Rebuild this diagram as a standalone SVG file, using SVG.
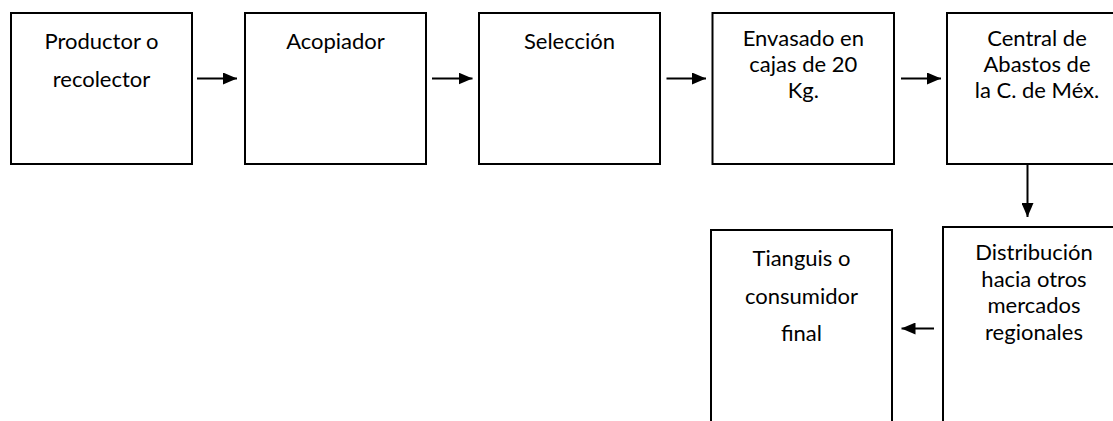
<svg xmlns="http://www.w3.org/2000/svg" width="1113" height="421" viewBox="0 0 1113 421">
<style>
.box{fill:#fff;stroke:#000;stroke-width:2}
.t{font-family:Lato,"Open Sans",sans-serif;font-size:22px;fill:#000;text-anchor:middle}
.c{stroke:#000;stroke-width:2;fill:none;marker-end:url(#ah)}
</style>
<defs>
<marker id="ah" viewBox="0 0 14 12" refX="14" refY="6" markerWidth="14" markerHeight="12" markerUnits="userSpaceOnUse" orient="auto">
<path d="M0,0 L14,6 L0,12 Z" fill="#000"/>
</marker>
</defs>
<rect width="1113" height="421" fill="#fff"/>
<g id="n1"><rect class="box" x="11" y="13" width="181" height="151"/>
<text class="t"><tspan x="101.5" y="49.3">Productor o</tspan><tspan x="101.5" y="87.3">recolector</tspan></text></g>
<g id="n2"><rect class="box" x="245" y="13" width="181" height="151"/>
<text class="t"><tspan x="335.5" y="49.3">Acopiador</tspan></text></g>
<g id="n3"><rect class="box" x="479" y="13" width="181" height="151"/>
<text class="t"><tspan x="569.5" y="49.3">Selección</tspan></text></g>
<g id="n4"><rect class="box" x="712.5" y="13" width="181.5" height="151"/>
<text class="t"><tspan x="803.3" y="45.7">Envasado en</tspan><tspan x="803.3" y="72.3">cajas de 20</tspan><tspan x="803.3" y="98.3">Kg.</tspan></text></g>
<g id="n5"><rect class="box" x="947" y="13" width="181" height="151"/>
<text class="t"><tspan x="1037" y="45.7">Central de</tspan><tspan x="1037" y="72.3">Abastos de</tspan><tspan x="1037" y="98.3">la C. de Méx.</tspan></text></g>
<g id="n6"><rect class="box" x="943" y="227" width="181" height="210"/>
<text class="t"><tspan x="1034" y="260">Distribución</tspan><tspan x="1034" y="286.7">hacia otros</tspan><tspan x="1034" y="313.3">mercados</tspan><tspan x="1034" y="340">regionales</tspan></text></g>
<g id="n7"><rect class="box" x="711" y="230" width="181" height="210"/>
<text class="t"><tspan x="801.5" y="265.7">Tianguis o</tspan><tspan x="801.5" y="304">consumidor</tspan><tspan x="801.5" y="340.7">final</tspan></text></g>
<g id="connectors">
<line class="c" x1="197" y1="78.5" x2="237" y2="78.5"/>
<line class="c" x1="432" y1="78.5" x2="472.5" y2="78.5"/>
<line class="c" x1="666.5" y1="78.5" x2="706" y2="78.5"/>
<line class="c" x1="901" y1="78.5" x2="941" y2="78.5"/>
<line class="c" x1="1027.5" y1="164" x2="1027.5" y2="217"/>
<line class="c" x1="934" y1="328.5" x2="901.5" y2="328.5"/>
</g>
</svg>
